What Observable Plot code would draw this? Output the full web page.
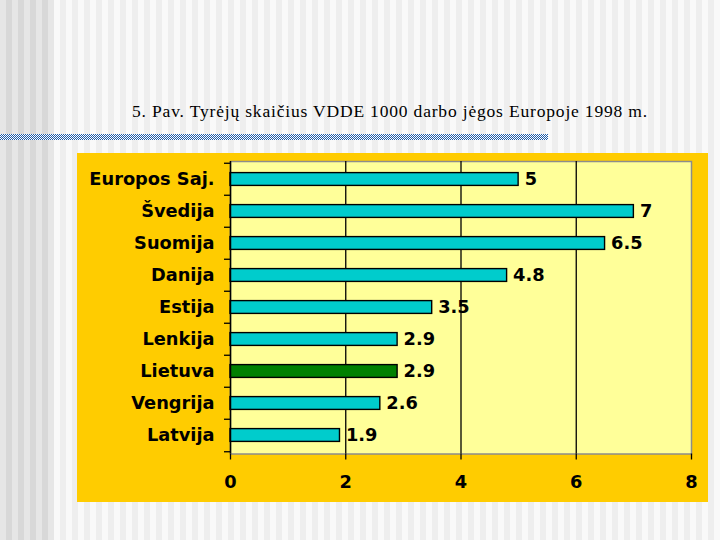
<!DOCTYPE html>
<html>
<head>
<meta charset="utf-8">
<script src="https://cdn.jsdelivr.net/npm/d3@7"></script>
<script src="https://cdn.jsdelivr.net/npm/@observablehq/plot@0.6"></script>
<style>
  html, body { margin: 0; padding: 0; }
  body {
    width: 720px; height: 540px; position: relative; overflow: hidden;
    background: repeating-linear-gradient(90deg, #eeeeee 0 6px, #f9f9f9 6px 12px);
  }
  #leftstripes {
    position: absolute; left: 0; top: 0; width: 54px; height: 540px;
    background: repeating-linear-gradient(90deg, #e6e6e6 0 6px, #d8d8d8 6px 12px);
  }
  #title {
    position: absolute; top: 101px; left: 390px; transform: translateX(-50%);
    white-space: nowrap; font-family: "Liberation Serif", serif; font-size: 17.5px;
    letter-spacing: 0.82px; color: #000;
  }
  #rule {
    position: absolute; left: 0; top: 134px; width: 548px; height: 6px;
    background: repeating-conic-gradient(#1c5aa8 0% 25%, #ffffff 0% 50%) 0 0 / 2px 2px;
  }
  #chart { position: absolute; left: 77px; top: 153px; }
</style>
</head>
<body>
<div id="leftstripes"></div>
<div id="title">5. Pav. Tyrėjų skaičius VDDE 1000 darbo jėgos Europoje 1998 m.</div>
<div id="rule"></div>
<div id="chart"></div>
<script>
const countries = ["Europos Saj.", "Švedija", "Suomija", "Danija", "Estija", "Lenkija", "Lietuva", "Vengrija", "Latvija"];
const values = [5, 7, 6.5, 4.8, 3.5, 2.9, 2.9, 2.6, 1.9];
const xTicks = [0, 2, 4, 6, 8];
const highlight = "Lietuva";

const data = countries.map((c, i) => ({country: c, value: values[i]}));
const band = (453.5 - 161) / countries.length;

const chart = Plot.plot({
  width: 631,
  height: 349,
  marginLeft: 153,
  marginRight: 17,
  marginTop: 8,
  marginBottom: 48.5,
  style: {
    background: "#FFCC00",
    fontFamily: "DejaVu Sans, Verdana, sans-serif",
    fontSize: "17.8px",
    fontWeight: "bold",
    color: "black",
    overflow: "visible"
  },
  x: {domain: [0, 8]},
  y: {domain: countries, padding: 0},
  marks: [
    Plot.frame({fill: "#FFFF99", stroke: "#8c8c8c", strokeWidth: 1.5}),
    Plot.gridX(xTicks.slice(1, -1), {stroke: "black", strokeOpacity: 1, strokeWidth: 1.3}),
    Plot.barX(data, {
      x: "value", y: "country",
      fill: d => d.country === highlight ? "#008000" : "#00CCCC",
      stroke: "black", strokeWidth: 1.4,
      insetTop: 9.6, insetBottom: 9.6
    }),
    Plot.text(data, {
      x: "value", y: "country", text: d => String(d.value),
      textAnchor: "start", dx: 6, fill: "black", fontWeight: "bold", fontSize: 17.8
    }),
    Plot.axisY({tickSize: 0, tickPadding: 16, label: null}),
    Plot.axisY({tickSize: 6, dy: -band / 2, tickFormat: () => "", label: null, stroke: "black", strokeWidth: 1.3}),
    Plot.axisY([countries[countries.length - 1]], {tickSize: 6, dy: band / 2, tickFormat: () => "", label: null, stroke: "black", strokeWidth: 1.3}),
    Plot.axisX({ticks: xTicks, tickSize: 6, tickPadding: 15, label: null, stroke: "black", strokeWidth: 1.3}),
    Plot.ruleX([0], {stroke: "black", strokeWidth: 1.5}),
    Plot.ruleY([0], {stroke: "black", strokeWidth: 1.5})
  ]
});
document.getElementById("chart").appendChild(chart);
</script>
</body>
</html>
